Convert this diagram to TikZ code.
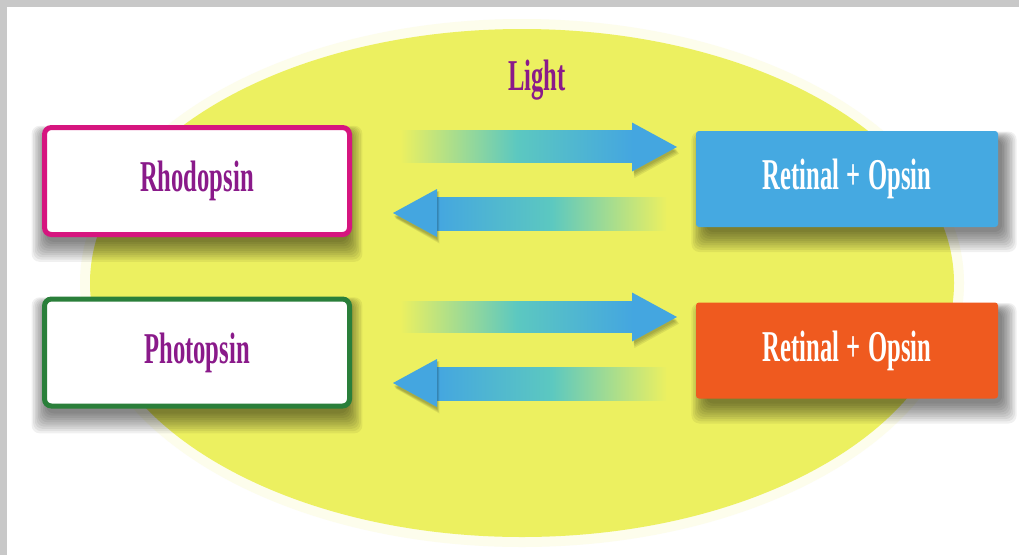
\documentclass[tikz,border=0pt]{standalone}
\usepackage{fontspec}
\newfontfamily\cond[FakeStretch=0.56]{Liberation Serif}
\usetikzlibrary{calc}
\definecolor{ellyellow}{HTML}{ECF060}
\definecolor{arrblue}{HTML}{44A6E0}
\definecolor{arrteal}{HTML}{5CC8C0}
\definecolor{txtpurple}{HTML}{8A1A8A}
\definecolor{rhopink}{HTML}{D6157F}
\definecolor{phogreen}{HTML}{2A7F3A}
\definecolor{retblue}{HTML}{45A9E1}
\definecolor{retred}{HTML}{EF5A1F}
\definecolor{framegray}{HTML}{C8C8C8}
\pgfdeclarelayer{ell}
\pgfdeclarelayer{shad}
\pgfsetlayers{ell,shad,main}
\tikzset{
  lbl/.style={font=\cond\bfseries\fontsize{44}{50}\selectfont},
  leftbox/.style={lbl, draw, fill=white, line width=5pt, rounded corners=7pt,
    minimum width=305pt, minimum height=107pt, text=txtpurple},
  rightbox/.style={lbl, rounded corners=3pt, minimum width=302pt, minimum height=96pt, text=white},
  shadowlayer/.style={fill=black, opacity=0.06, rounded corners=8pt}
}
\newcommand\boxshadow[3]{% node, xshift, extra
  \begin{pgfonlayer}{shad}
  \foreach \i in {0,...,9}{
    \fill[shadowlayer] ($(#1.north west)+(8+#2-1.6*\i, 8-0.8*\i)$)
      rectangle ($(#1.south east)+(#3+#2+1.6*\i, 5+2.2*\i)$);
  }
  \end{pgfonlayer}
}
\newcommand\rarrowshape[2]{%
  \shade[left color=ellyellow, right color=arrblue, middle color=arrteal]
    ($(#1)+(0,-15)$) rectangle ($(#2)+(-44,15)$);
  \foreach \i in {0,...,3}{
    \fill[black, opacity=0.08] ($(#2)+(-45+1.5,-24.5+\i+2)$) -- ($(#2)+(\i*0.7,\i*1.2+3)$) -- ($(#2)+(-45+1.5+\i*0.3,24.5+1.5*\i+2)$) -- cycle;
  }
  \fill[arrblue] ($(#2)+(-45,-24.5)$) -- (#2) -- ($(#2)+(-45,24.5)$) -- cycle;
}
\newcommand\larrowshape[2]{%
  \shade[left color=arrblue, right color=ellyellow, middle color=arrteal]
    ($(#2)+(43,-16)$) rectangle ($(#1)+(0,16)$);
  \foreach \i in {0,...,3}{
    \fill[black, opacity=0.08] ($(#2)+(44+\i*0.8,-24+2)$) -- ($(#2)+(\i*0.5+1,\i*0.8+3)$) -- ($(#2)+(44+\i*0.8,24+1.5*\i+2)$) -- cycle;
  }
  \fill[arrblue] ($(#2)+(44,-24)$) -- (#2) -- ($(#2)+(44,24)$) -- cycle;
}
\begin{document}
\begin{tikzpicture}[x=1pt,y=-1pt]
\useasboundingbox (0,0) rectangle (1019,555);
\begin{pgfonlayer}{ell}
\fill[framegray] (0,0) rectangle (1019,555);
\fill[white] (7,7) rectangle (1019,555);
\fill[ellyellow!12] (522,283) ellipse [x radius=442, y radius=264];
\fill[ellyellow] (522,283) ellipse [x radius=432, y radius=254];
\end{pgfonlayer}

\node[lbl, text=txtpurple] (light) at (537,80) {Light};

\node[leftbox, draw=rhopink] (rho) at (197,181) {Rhodopsin};
\node[leftbox, draw=phogreen] (pho) at (197,352.5) {Photopsin};
\node[rightbox, fill=retblue] (ret1) at (847,179) {Retinal\,+\,Opsin};
\node[rightbox, fill=retred] (ret2) at (847,350.5) {Retinal\,+\,Opsin};

\boxshadow{rho}{-4}{0}
\boxshadow{pho}{-4}{0}
\boxshadow{ret1}{2}{2}
\boxshadow{ret2}{2}{2}

% arrow end points
\coordinate (a1s) at (400,145);
\coordinate (a1t) at (677,147);
\coordinate (a2s) at (667,214);
\coordinate (a2t) at (393,213);
\coordinate (a3s) at (400,316);
\coordinate (a3t) at (677,317);
\coordinate (a4s) at (667,384);
\coordinate (a4t) at (393,383);

\rarrowshape{a1s}{a1t}
\larrowshape{a2s}{a2t}
\rarrowshape{a3s}{a3t}
\larrowshape{a4s}{a4t}
\end{tikzpicture}
\end{document}
